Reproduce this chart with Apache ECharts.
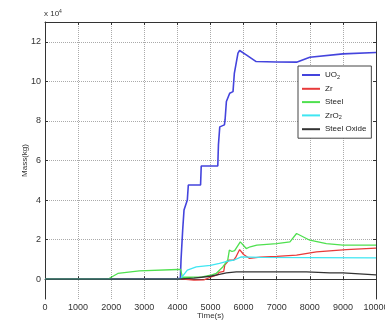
<!DOCTYPE html>
<html><head><meta charset="utf-8">
<script src="https://cdn.jsdelivr.net/npm/echarts@6/dist/echarts.min.js"></script>
<style>html,body{margin:0;padding:0;background:#fff}#c{width:385px;height:320px}</style>
</head><body><div id="c"></div>
<script>
// Time axis (s) and masses (x 10^4 kg)
const xTicks = [0,1000,2000,3000,4000,5000,6000,7000,8000,9000,10000];
const yTicks = [0,2,4,6,8,10,12];
const seriesNames = ['UO2','Zr','Steel','ZrO2','Steel Oxide'];

const uo2T = [0,2000,4000,4090,4110,4160,4200,4260,4300,4330,4700,4720,5220,5240,5260,5280,5420,5440,5480,5580,5680,5720,5780,5830,5880,6080,6380,7000,7600,8000,9000,10000];
const uo2V = [0,0.02,0.03,0.05,1.0,2.5,3.5,3.8,4.0,4.76,4.76,5.72,5.72,6.8,6.9,7.7,7.8,8.05,8.98,9.4,9.48,10.4,10.5,11.43,11.56,11.34,11.0,10.98,10.97,11.22,11.39,11.46];

const zrT = [0,4000,4100,4500,4800,5000,5200,5260,5300,5400,5430,5550,5700,5760,5880,6000,6180,6500,7000,7600,8200,9100,10000];
const zrV = [0,0,0.02,-0.05,-0.03,0.1,0.22,0.35,0.37,0.4,0.71,0.96,0.96,1.1,1.5,1.25,1.05,1.12,1.15,1.22,1.38,1.5,1.57];

const steelT = [0,1900,2000,2200,2850,4000,4100,4150,4400,4750,5000,5170,5370,5520,5570,5650,5730,5900,6080,6200,6400,7000,7400,7600,8000,8500,9000,10000];
const steelV = [0,0,0.1,0.29,0.42,0.49,0.49,0.1,0.1,0.12,0.2,0.29,0.62,0.96,1.47,1.4,1.45,1.89,1.55,1.64,1.72,1.8,1.89,2.31,1.97,1.8,1.72,1.72];

const zro2T = [0,4000,4100,4300,4360,4570,5000,5270,5500,5700,5930,6500,8000,10000];
const zro2V = [0,0,0.03,0.46,0.54,0.62,0.7,0.8,0.9,0.96,1.13,1.1,1.09,1.08];

const oxT = [0,4000,4100,4500,5000,5270,5480,5780,7000,7900,8600,9000,10000];
const oxV = [0,0,0.02,0.05,0.15,0.24,0.32,0.37,0.37,0.37,0.32,0.32,0.22];

const zip = (t, v) => t.map((x, i) => [x, v[i]]);
const colors = ['#4444dd','#e83a3a','#4fe04f','#3fe6f2','#333333'];
const widths = [1.6,1.3,1.3,1.3,1.3];
const datas = [zip(uo2T,uo2V), zip(zrT,zrV), zip(steelT,steelV), zip(zro2T,zro2V), zip(oxT,oxV)];

const FONT = 'Liberation Sans, Arial, sans-serif';
const chart = echarts.init(document.getElementById('c'), null, {renderer:'canvas'});
chart.setOption({
  animation: false,
  backgroundColor: '#fff',
  grid: {left: 45, right: 9, top: 22, bottom: 21, containLabel: false, outerBoundsMode: 'none'},
  graphic: [{
    type: 'text', left: 44, top: 9,
    style: {text: '{a|x 10}{b|4}', fontFamily: FONT,
      rich: {a: {fontSize: 8, fill: '#333'}, b: {fontSize: 5, fill: '#333', verticalAlign: 'top', padding:[0,0,5,0]}}}
  }],
  legend: {
    orient: 'vertical', left: 298, top: 66,
    data: seriesNames,
    itemWidth: 18, itemHeight: 2, itemGap: 3.3, icon: 'rect',
    padding: [4, 5, 4, 4],
    borderColor: '#444', borderWidth: 1, backgroundColor: '#fff',
    textStyle: {fontFamily: FONT, fontSize: 8, color: '#222', lineHeight: 10,
      rich: {n: {fontSize: 8, color:'#222'}, s: {fontSize: 5.5, color:'#222', padding:[5,0,0,0]}}},
    formatter: function (name) {
      if (name === 'UO2') return '{n|UO}{s|2}';
      if (name === 'ZrO2') return '{n|ZrO}{s|2}';
      return '{n|' + name + '}';
    }
  },
  xAxis: [{
    type: 'value', min: 0, max: 10000, interval: 1000,
    name: 'Time(s)', nameLocation: 'middle', nameGap: 13, nameMoveOverlap: false,
    nameTextStyle: {fontFamily: FONT, fontSize: 8, color: '#333'},
    axisLine: {lineStyle: {color: '#333', width: 1}},
    axisTick: {inside: true, length: 3, lineStyle: {color: '#333'}},
    axisLabel: {fontFamily: FONT, fontSize: 9, color: '#333', margin: 4, showMaxLabel: true,
      formatter: v => String(v)},
    splitLine: {show: true, lineStyle: {type: 'dotted', color: '#aaa', width: 1}}
  }, {
    type: 'value', position: 'top', min: 0, max: 10000, interval: 1000,
    axisLine: {show: true, onZero: false, lineStyle: {color: '#333'}},
    axisTick: {inside: true, length: 3, lineStyle: {color: '#333'}},
    axisLabel: {show: false}, splitLine: {show: false}
  }],
  yAxis: [{
    type: 'value', min: -1, max: 13,
    name: 'Mass(kg)', nameLocation: 'middle', nameGap: 16, nameRotate: 90, nameMoveOverlap: false,
    nameTextStyle: {fontFamily: FONT, fontSize: 8, color: '#333'},
    axisLine: {show: true, onZero: false, lineStyle: {color: '#333'}},
    axisTick: {inside: true, length: 3, lineStyle: {color: '#333'}, customValues: yTicks},
    axisLabel: {fontFamily: FONT, fontSize: 9, color: '#333', margin: 4, customValues: yTicks},
    splitLine: {show: true, lineStyle: {type: 'dotted', color: '#aaa', width: 1}}
  }, {
    type: 'value', position: 'right', min: -1, max: 13,
    axisLine: {show: true, onZero: false, lineStyle: {color: '#333'}},
    axisTick: {inside: true, length: 3, lineStyle: {color: '#333'}, customValues: yTicks},
    axisLabel: {show: false}, splitLine: {show: false}
  }],
  series: seriesNames.map((n, i) => ({
    name: n, type: 'line', data: datas[i], xAxisIndex: 0, yAxisIndex: 0,
    symbol: 'none', color: colors[i],
    lineStyle: {color: colors[i], width: widths[i]},
    z: 2 + i
  }))
});
</script></body></html>
